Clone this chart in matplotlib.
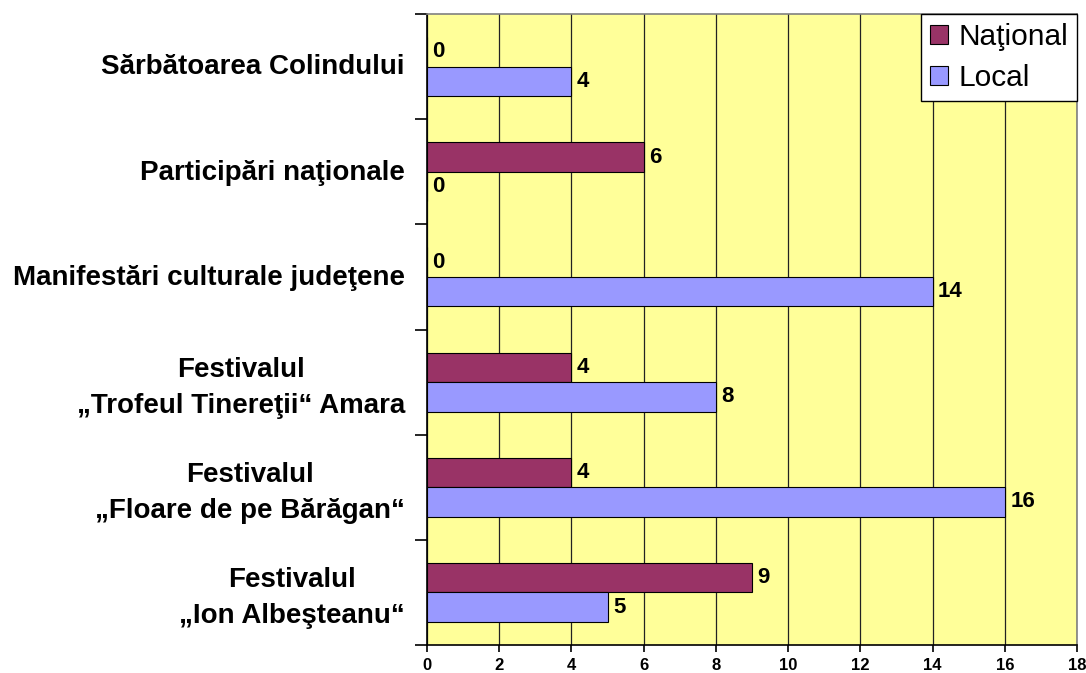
import matplotlib
matplotlib.use("Agg")
import matplotlib.pyplot as plt
import numpy as np

categories = [
    "Festivalul\n„Ion Albeşteanu“",
    "Festivalul\n„Floare de pe Bărăgan“",
    "Festivalul\n„Trofeul Tinereţii“ Amara",
    "Manifestări culturale judeţene",
    "Participări naţionale",
    "Sărbătoarea Colindului",
]
national = [9, 4, 4, 0, 6, 0]
local = [5, 16, 8, 14, 0, 4]
series_names = ["Naţional", "Local"]
xticks = [0, 2, 4, 6, 8, 10, 12, 14, 16, 18]

plt.rcParams['font.family'] = ['Liberation Sans', 'DejaVu Sans']

fig = plt.figure(figsize=(10.86, 6.73), dpi=100)
ax = fig.add_axes([0.3932, 0.0416, 0.9917 - 0.3932, 0.9792 - 0.0416])
ax.set_facecolor('#FFFF99')

y = np.arange(len(categories))
h = 0.28
bn = ax.barh(y + h / 2, national, height=h, color='#993366', edgecolor='black',
             linewidth=0.8, label=series_names[0], zorder=3)
bl = ax.barh(y - h / 2, local, height=h, color='#9999FF', edgecolor='black',
             linewidth=0.8, label=series_names[1], zorder=3)

for bars, vals in ((bn, national), (bl, local)):
    for b, v in zip(bars, vals):
        ax.annotate(str(v), xy=(v, b.get_y() + b.get_height() / 2),
                    xytext=(4, 0), textcoords='offset points',
                    ha='left', va='center', fontsize=16, fontweight='bold',
                    zorder=4)

ax.set_xlim(0, 18)
ax.set_ylim(-0.5, len(categories) - 0.5)
ax.set_xticks(xticks)
ax.set_xticklabels([str(t) for t in xticks], fontsize=12, fontweight='bold')
ax.tick_params(axis='x', length=5, width=1.2, pad=4, direction='out')
ax.grid(axis='x', color='#222222', linewidth=0.9, zorder=1)

ax.set_yticks(np.arange(len(categories) + 1) - 0.5)
ax.set_yticklabels([])
ax.tick_params(axis='y', which='major', length=9, width=1.2, direction='out')
ax.set_yticks(y + 0.02, minor=True)
ax.set_yticklabels(categories, minor=True, fontsize=20, fontweight='bold',
                   multialignment='center', linespacing=1.5)
ax.tick_params(axis='y', which='minor', length=0, pad=16)

for s in ('left', 'bottom'):
    ax.spines[s].set_color('black')
    ax.spines[s].set_linewidth(1.2)
for s in ('top', 'right'):
    ax.spines[s].set_color('#808080')
    ax.spines[s].set_linewidth(1.2)

leg = ax.legend(loc='upper right', bbox_to_anchor=(1, 1), borderaxespad=0,
                fontsize=21.5, frameon=True, fancybox=False, framealpha=1,
                edgecolor='black', handlelength=0.6, handleheight=0.6,
                handletextpad=0.35, labelspacing=0.45, borderpad=0.3)
leg.get_frame().set_linewidth(1.0)
leg.set_zorder(10)

fig.savefig('out.png', dpi=100)
